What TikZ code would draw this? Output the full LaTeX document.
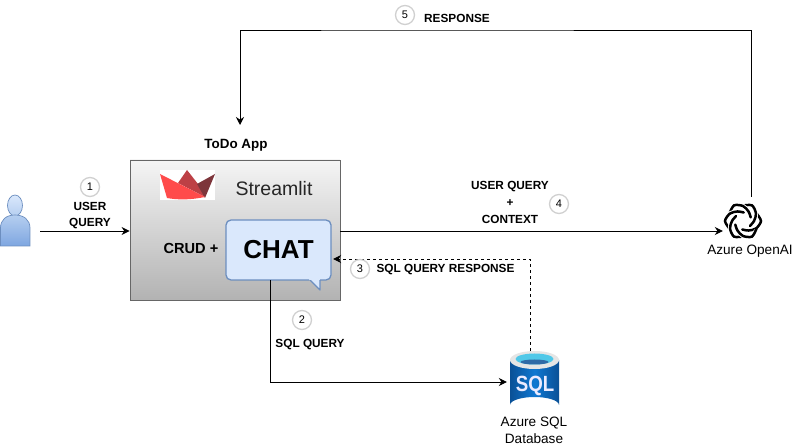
\documentclass[tikz,border=0pt]{standalone}
\usepackage{fontspec}
\setmainfont{Liberation Sans}
\usepackage{tikz}
\usetikzlibrary{arrows.meta, positioning, calc}
\definecolor{boxline}{RGB}{102, 102, 102}
\definecolor{chatfill}{RGB}{218, 232, 252}
\definecolor{chatline}{RGB}{108, 142, 191}
\definecolor{userlight}{RGB}{181, 206, 240}
\definecolor{userdark}{RGB}{126, 166, 224}
\definecolor{sqlblue}{RGB}{15, 120, 210}
\definecolor{sqldark}{RGB}{10, 80, 150}
\definecolor{sqlcyan}{RGB}{80, 200, 232}
\definecolor{badgeline}{RGB}{208, 208, 208}
\definecolor{logolight}{RGB}{255, 75, 75}
\definecolor{logomid}{RGB}{189, 64, 69}
\definecolor{logodark}{RGB}{125, 53, 59}
\newcommand{\labfont}{\fontsize{11.8}{15.5}\selectfont\bfseries}
\tikzset{
    flow/.style={line width=0.9pt, -{Stealth[length=8pt, width=8pt]}},
    badge/.style={circle, draw=badgeline, line width=1.3pt, fill=white, minimum size=19pt, inner sep=0pt, font=\fontsize{11}{11}\selectfont},
    lab/.style={align=center, inner sep=0pt, font=\labfont},
    caption/.style={align=center, inner sep=0pt, font=\fontsize{13.6}{17.5}\selectfont}
}
\begin{document}
\begin{tikzpicture}[x=1pt, y=-1pt]
    \useasboundingbox (0,0) rectangle (801,446);

    % App box
    \node (app) [draw=boxline, line width=0.8pt, top color=white!96!black, bottom color=black!30, minimum width=210pt, minimum height=140pt, inner sep=0pt] at (235,230) {};
    \node (apptitle) [lab, font=\fontsize{13.4}{15}\selectfont\bfseries] at (236,145.5) {ToDo App};
    \node (streamlit) [inner sep=0pt, font=\fontsize{19.5}{22}\selectfont, text=black!85] at (274,189) {Streamlit};
    \node (crud) [inner sep=0pt, font=\fontsize{14.6}{16}\selectfont\bfseries] at (191,248) {CRUD +};

    % Logo
    \fill[white] (160,170) rectangle (215,200);
    \fill[logomid] (178,183) -- (187,170) -- (198,184) -- (205,197) -- cycle;
    \fill[logodark] (197,184) -- (215,174) -- (205,198) -- cycle;
    \fill[logolight] (160,174) -- (205,197) .. controls (190,200) and (178,200) .. (167,198) -- cycle;

    % Chat bubble
    \draw[chatline, fill=chatfill, line width=1.3pt, line join=round] (309,279) -- (320,290) -- (320,279);
    \fill[chatfill, rounded corners=5pt] (226,220) rectangle (331,280);
    \draw[chatline, line width=1.3pt, rounded corners=5pt] (320,280) -- (331,280) -- (331,220) -- (226,220) -- (226,280) -- (309,280);
    \node (chat) [minimum width=105pt, minimum height=60pt, inner sep=0pt, font=\fontsize{26}{28}\selectfont\bfseries] at (278.5,250) {CHAT};

    % User
    \shade[draw=chatline, line width=0.7pt, top color=chatfill, bottom color=userlight] (15,205.5) ellipse (7.5pt and 10.5pt);
    \draw[chatline, line width=0.7pt, top color=userlight, bottom color=userdark] (0.5,246) -- (0.5,228) .. controls (0.5,220) and (6,215) .. (15,215) .. controls (24,215) and (30,220) .. (30,228) -- (30,246) -- cycle;
    \coordinate (user) at (40,231);

    % SQL database
    \node (sqldb) [minimum width=50pt, minimum height=62pt, inner sep=0pt] at (532,382) {};
    \shade[left color=sqldark, right color=sqldark, middle color=sqlblue] (510,360) -- (510,405) arc[start angle=180, end angle=0, x radius=24.5pt, y radius=8pt] -- (559,360) -- cycle;
    \fill[black!10] (534.5,360) ellipse (24.5pt and 9pt);
    \fill[sqlcyan] (534.5,359) ellipse (19pt and 5.5pt);
    \fill[sqldark!85!white] (534.5,362) ellipse (14pt and 2.5pt);
    \node (sqltext) [inner sep=0pt, text=white!92!blue, xscale=0.85, font=\fontsize{22}{24}\selectfont\bfseries] at (535,386) {SQL};
    \node (sqlcap) [caption] at (534,430.5) {Azure SQL\\Database};

    % OpenAI
    \node (openai) [minimum size=40pt, inner sep=0pt] at (743,221) {};
    \foreach \a in {0,60,...,300} {
        \begin{scope}[shift={(openai.center)}, rotate=\a]
            \draw[white, line width=4.4pt] plot[smooth] coordinates {(-25:16) (0:18) (30:15) (60:11) (95:8.5)};
            \draw[black, line width=2.5pt, line cap=round] plot[smooth] coordinates {(-30:15.5) (0:18) (30:15) (60:11) (95:8.5)};
        \end{scope}
    }
    \node (openaicap) [caption] at (750,251) {Azure OpenAI};

    % Connectors
    \draw[flow] (user) -- (user -| app.west);
    \draw[flow] ([xshift=-8pt]chat.south) |- (sqldb.west);
    \draw[flow, dashed] ([xshift=-2pt]sqldb.north) |- ([xshift=2pt,yshift=-9pt]chat.east);
    \coordinate (appout) at ([yshift=-1pt]app.east);
    \draw[flow] (appout) -- (appout -| openai.west);
    \coordinate (toptee) at (240,125);
    \draw[flow] ([xshift=8pt,yshift=4pt]openai.north) |- (400,30) -| (toptee);

    % Labels
    \node (lab1) [lab] at (90,215.5) {USER\\QUERY};
    \node (lab2) [lab] at (310,345) {SQL QUERY};
    \node (lab3) [lab] at (445.5,270) {SQL QUERY RESPONSE};
    \node (lab4) [lab] at (510,202.5) {USER QUERY\\[1.5pt]+\\[1.5pt]CONTEXT};
    \node (lab5) [lab] at (457,18) {RESPONSE};

    % Badges
    \foreach \n/\px/\py in {1/90/187, 2/302/320, 3/360/269, 4/559/204, 5/405/15}
        {\node (badge\n) [badge] at (\px,\py) {\n};}
\end{tikzpicture}
\end{document}
